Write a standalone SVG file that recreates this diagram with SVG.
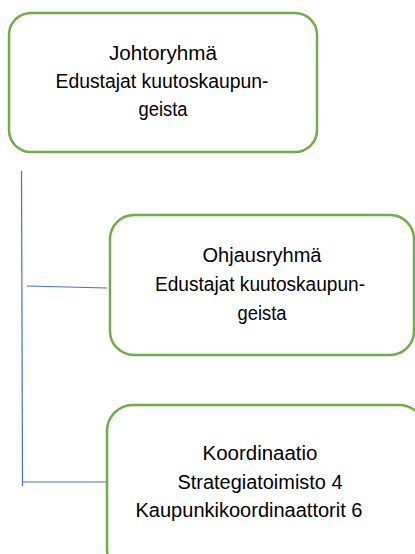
<svg xmlns="http://www.w3.org/2000/svg" width="415" height="554" viewBox="0 0 415 554">
<style>
.box{fill:#fff;stroke:#70AD47;stroke-width:2.5}
.conn{fill:none;stroke:#4472C4;stroke-width:1.2}
text{font-family:"Liberation Sans",Arial,sans-serif;font-size:19.5px;fill:#000;text-anchor:middle}
</style>
<rect width="415" height="554" fill="#fff"/>
<g id="connectors">
<line class="conn" x1="21.5" y1="171" x2="22.5" y2="486"/>
<line class="conn" x1="27" y1="286" x2="107" y2="288"/>
<line class="conn" x1="22" y1="482" x2="108" y2="482"/>
</g>
<g id="johtoryhma">
<rect class="box" x="9" y="13" width="308" height="139" rx="22"/>
<text x="163" y="60" textLength="108" lengthAdjust="spacingAndGlyphs">Johtoryhmä</text>
<text x="162" y="88" textLength="213" lengthAdjust="spacingAndGlyphs">Edustajat kuutoskaupun-</text>
<text x="163" y="116" textLength="49" lengthAdjust="spacingAndGlyphs">geista</text>
</g>
<g id="ohjausryhma">
<rect class="box" x="110" y="215" width="304" height="140" rx="24"/>
<text x="262" y="262" textLength="119" lengthAdjust="spacingAndGlyphs">Ohjausryhmä</text>
<text x="260" y="291" textLength="210" lengthAdjust="spacingAndGlyphs">Edustajat kuutoskaupun-</text>
<text x="262" y="320" textLength="49" lengthAdjust="spacingAndGlyphs">geista</text>
</g>
<g id="koordinaatio">
<rect class="box" x="107" y="405" width="318" height="170" rx="26"/>
<text x="260" y="460" textLength="115" lengthAdjust="spacingAndGlyphs">Koordinaatio</text>
<text x="260" y="489" textLength="165" lengthAdjust="spacingAndGlyphs">Strategiatoimisto 4</text>
<text x="249" y="517" textLength="227" lengthAdjust="spacingAndGlyphs">Kaupunkikoordinaattorit 6</text>
</g>
</svg>
